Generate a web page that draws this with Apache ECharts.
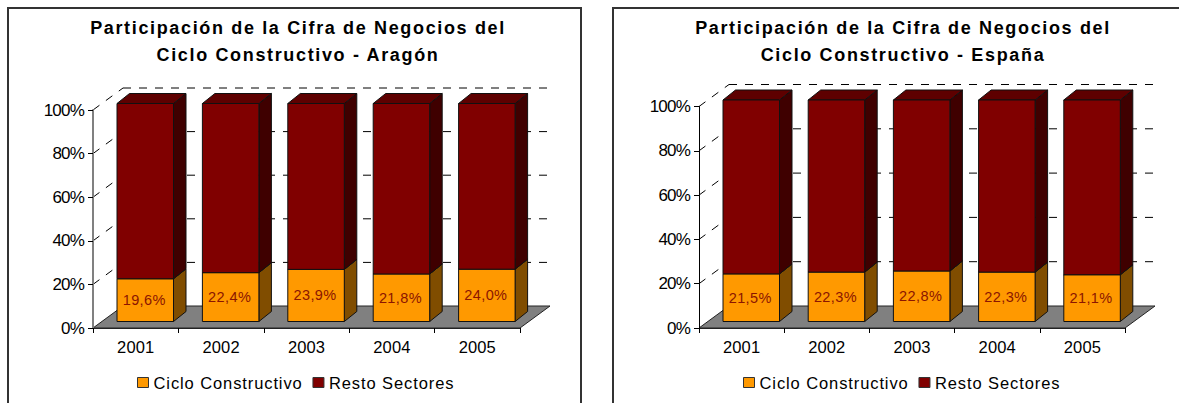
<!DOCTYPE html>
<html><head><meta charset="utf-8">
<style>
html,body{margin:0;padding:0;background:#fff}
#c{width:1179px;height:403px}
text[style*="bold"]{letter-spacing:1.65px}
text[style*="16.51px"]{letter-spacing:.9px}
text[style*="16.52px"]{letter-spacing:.1px}
text[style*="17.01px"]{letter-spacing:-.8px}
text[style*="14.51px"]{letter-spacing:.4px}
</style>
<script src="https://cdn.jsdelivr.net/npm/echarts@6/dist/echarts.min.js"></script>
</head><body><div id="c"></div>
<script>
const years = ['2001','2002','2003','2004','2005'];
const titleAragon = 'Participación de la Cifra de Negocios del\nCiclo Constructivo - Aragón';
const titleEspana = 'Participación de la Cifra de Negocios del\nCiclo Constructivo - España';
const cicloName = 'Ciclo Constructivo';
const restoName = 'Resto Sectores';
const yTicks = [0,20,40,60,80,100];
const aragonCiclo = [19.6,22.4,23.9,21.8,24.0];
const aragonResto = [80.4,77.6,76.1,78.2,76.0];
const espanaCiclo = [21.5,22.3,22.8,22.3,21.1];
const espanaResto = [78.5,77.7,77.2,77.7,78.9];

const FONT = '"Liberation Sans", Arial, sans-serif';
const COL = {
  ciclo:{face:'#ff9900',side:'#804d00',top:'#b36b00'},
  resto:{face:'#800000',side:'#3f0000',top:'#5e0000'}
};
const DX=30, DY=22;            // floor depth
const FX=24, FW=56.5;          // bar face inset & width
const SX=12.5, SY=10;          // bar depth
const LIFT=6.5;

function frameRender(params, api){
  const y = api.value(0);
  const p = api.coord([0,y]);
  const band = api.size([1,0])[0];
  const w = band*years.length;
  const x0=p[0]-band/2, y0=p[1];
  const children=[];
  const dash={stroke:'#000',lineWidth:1,lineDash:[8,8]};
  if(y===0){
    children.push({type:'polygon',shape:{points:[[x0,y0],[x0+DX,y0-DY],[x0+w+DX,y0-DY],[x0+w,y0]]},
      style:{fill:'#808080',stroke:'#222',lineWidth:1}});
  } else {
    children.push({type:'line',shape:{x1:x0,y1:y0,x2:x0+DX,y2:y0-DY},style:dash});
    children.push({type:'line',shape:{x1:x0+DX,y1:y0-DY,x2:x0+w+DX,y2:y0-DY},style:dash});
  }
  return {type:'group',children};
}
function barRender(col,withLabel){
  return function(params,api){
    const i=api.value(0), b=api.value(1), t=api.value(2);
    const bw=api.size([1,0])[0];
    const pb=api.coord([i,b]), pt=api.coord([i,t]);
    const x=pb[0]-bw/2+FX, yb=pb[1]-LIFT, yt=pt[1]-LIFT, s={stroke:'#111',lineWidth:1};
    const ch=[
      {type:'polygon',shape:{points:[[x+FW,yb],[x+FW+SX,yb-SY],[x+FW+SX,yt-SY],[x+FW,yt]]},style:{fill:col.side,...s}},
      {type:'polygon',shape:{points:[[x,yt],[x+SX,yt-SY],[x+FW+SX,yt-SY],[x+FW,yt]]},style:{fill:col.top,...s}},
      {type:'rect',shape:{x,y:yt,width:FW,height:yb-yt},style:{fill:col.face,...s}}
    ];
    if(withLabel){
      ch.push({type:'text',style:{text:t.toFixed(1).replace('.',',')+'%',x:x+FW/2-1,y:(yb+yt)/2,
        textAlign:'center',textVerticalAlign:'middle',fill:'#8b1500',font:'14.51px '+FONT}});
    }
    return {type:'group',children:ch};
  };
}
function seriesFor(gi,ciclo,resto){
  return [
    {type:'custom',xAxisIndex:gi,yAxisIndex:gi,z:1,silent:true,renderItem:frameRender,
     data:yTicks.map(v=>[v]),encode:{y:0}},
    {type:'custom',name:cicloName,xAxisIndex:gi,yAxisIndex:gi,z:2,silent:true,itemStyle:{color:COL.ciclo.face},
     renderItem:barRender(COL.ciclo,true),encode:{x:0,y:[1,2]},
     data:ciclo.map((v,i)=>[i,0,v])},
    {type:'custom',name:restoName,xAxisIndex:gi,yAxisIndex:gi,z:3,silent:true,itemStyle:{color:COL.resto.face},
     renderItem:barRender(COL.resto,false),encode:{x:0,y:[1,2]},
     data:resto.map((v,i)=>[i,ciclo[i],ciclo[i]+v])}
  ];
}
const axisColors=['#808080','#000'];
function xAxis(gi){return {gridIndex:gi,type:'category',data:years,boundaryGap:true,
  axisLine:{lineStyle:{color:'#222',width:1}},axisTick:{show:true,length:5,lineStyle:{color:'#000'}},
  axisLabel:{fontSize:16.52,color:'#000',fontFamily:FONT,margin:11,interval:0},z:5};}
function yAxis(gi){return {gridIndex:gi,type:'value',min:0,max:100,interval:20,
  axisLine:{show:true,lineStyle:{color:axisColors[gi],width:gi?1:2}},axisTick:{show:true,length:5,lineStyle:{color:'#000'}},
  axisLabel:{formatter:'{value}%',fontSize:17.01,color:'#000',fontFamily:FONT,margin:9},splitLine:{show:false},z:5};}
function titleFor(text,cx){return {text,left:cx,top:9,textAlign:'center',
  textStyle:{fontSize:18,fontWeight:'bold',color:'#000',fontFamily:FONT,lineHeight:27}};}
function legendFor(x){return {left:x,top:374,padding:0,orient:'horizontal',itemWidth:11,itemHeight:10,itemGap:26,selectedMode:false,
  icon:'rect',itemStyle:{borderColor:'#333',borderWidth:1},
  textStyle:{fontSize:16.51,color:'#000',fontFamily:FONT},data:[cicloName,restoName]};}

const chart=echarts.init(document.getElementById('c'),null,{renderer:'svg',width:1179,height:403});
chart.setOption({
  animation:false,backgroundColor:'#fff',
  title:[titleFor(titleAragon,293),titleFor(titleEspana,898)],
  legend:[legendFor(137),legendFor(743)],
  grid:[{left:93,width:427,top:110,height:218},{left:699,width:426,top:106.5,height:221.5}],
  xAxis:[xAxis(0),xAxis(1)],yAxis:[yAxis(0),yAxis(1)],
  series:[...seriesFor(0,aragonCiclo,aragonResto),...seriesFor(1,espanaCiclo,espanaResto)],
  graphic:[
    {type:'rect',z:0,silent:true,shape:{x:8,y:8,width:573,height:520},style:{fill:'none',stroke:'#333',lineWidth:2}},
    {type:'rect',z:0,silent:true,shape:{x:613,y:8,width:700,height:520},style:{fill:'none',stroke:'#333',lineWidth:2}}
  ]
});
</script></body></html>
